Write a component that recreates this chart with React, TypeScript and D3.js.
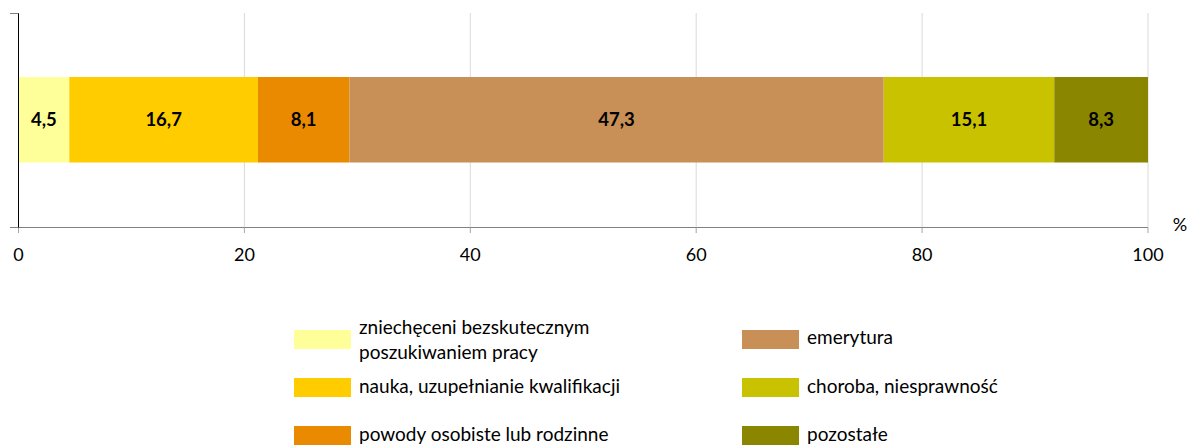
import React from "react";
import * as d3 from "d3";

const categories = [
  "zniechęceni bezskutecznym poszukiwaniem pracy",
  "nauka, uzupełnianie kwalifikacji",
  "powody osobiste lub rodzinne",
  "emerytura",
  "choroba, niesprawność",
  "pozostałe",
];
const values = [4.5, 16.7, 8.1, 47.3, 15.1, 8.3];
const colors = ["#FFFF99", "#FFCC00", "#EA8A00", "#C88F57", "#C8C200", "#8A8600"];
const ticks = [0, 20, 40, 60, 80, 100];
const legendLines = [
  ["zniechęceni bezskutecznym", "poszukiwaniem pracy"],
  ["nauka, uzupełnianie kwalifikacji"],
  ["powody osobiste lub rodzinne"],
  ["emerytura"],
  ["choroba, niesprawność"],
  ["pozostałe"],
];

const FONT = "Lato, 'Open Sans', sans-serif";

export default function App() {
  const W = 1187, H = 445;
  const x = d3.scaleLinear().domain([0, 100]).range([18.5, 1148]);
  let cum = 0;
  const segs = values.map((v, i) => {
    const s = { x0: cum, x1: cum + v, v, c: colors[i] };
    cum += v;
    return s;
  });
  const legendPos = [
    { sx: 294, sy: 330, ty: [334, 359] },
    { sx: 294, sy: 378, ty: [393] },
    { sx: 294, sy: 426, ty: [441] },
    { sx: 742, sy: 330, ty: [344] },
    { sx: 742, sy: 378, ty: [393] },
    { sx: 742, sy: 426, ty: [441] },
  ];
  const barY = 77, barH = 85.5;
  return (
    <svg width={W} height={H} style={{ position: "absolute", left: 0, top: 0, display: "block" }} fontFamily={FONT}>
      <rect width={W} height={H} fill="#fff" />
      {ticks.filter((t) => t > 0).map((t) => (
        <line key={t} x1={x(t)} x2={x(t)} y1={13} y2={227} stroke="#d9d9d9" strokeWidth={1} />
      ))}
      {segs.map((s, i) => (
        <g key={i}>
          <rect x={x(s.x0)} y={barY} width={x(s.x1) - x(s.x0)} height={barH} fill={s.c} />
          <text x={(x(s.x0) + x(s.x1)) / 2} y={barY + barH / 2 + 6.5} textAnchor="middle" fontWeight="bold" fontSize={18.5} fill="#000">
            {s.v.toFixed(1).replace(".", ",")}
          </text>
        </g>
      ))}
      <line x1={10} x2={x(100)} y1={227.5} y2={227.5} stroke="#808080" strokeWidth={1} />
      {ticks.map((t) => (
        <line key={"t" + t} x1={x(t)} x2={x(t)} y1={227.5} y2={233} stroke="#a6a6a6" strokeWidth={1} />
      ))}
      <line x1={18.5} x2={18.5} y1={13} y2={227.5} stroke="#000" strokeWidth={1} />
      <line x1={10} x2={18.5} y1={13.5} y2={13.5} stroke="#808080" strokeWidth={1} />
      {ticks.map((t) => (
        <text key={"l" + t} x={x(t)} y={261} textAnchor="middle" fontSize={18} fill="#000">{t}</text>
      ))}
      <text x={1180} y={231} textAnchor="middle" fontSize={18} fill="#000">%</text>
      {categories.map((c, i) => {
        const p = legendPos[i];
        return (
          <g key={c}>
            <rect x={p.sx} y={p.sy} width={57} height={19} fill={colors[i]} />
            {legendLines[i].map((ln, j) => (
              <text key={j} x={p.sx + 65} y={p.ty[j]} fontSize={19} fill="#000">{ln}</text>
            ))}
          </g>
        );
      })}
    </svg>
  );
}
